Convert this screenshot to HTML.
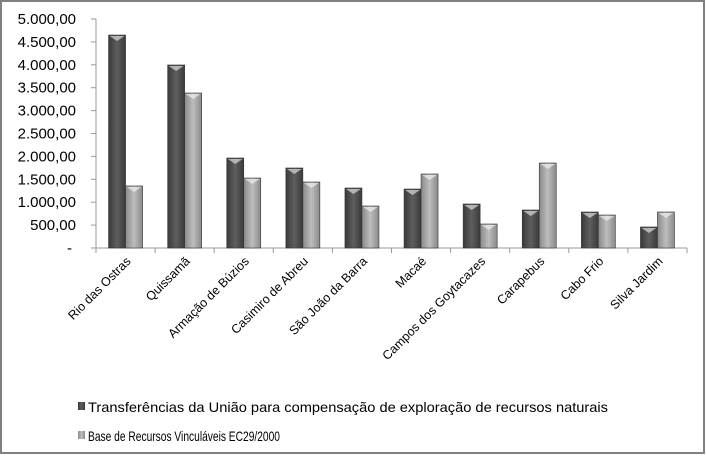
<!DOCTYPE html>
<html><head><meta charset="utf-8"><style>
body{margin:0;background:#fff;}
svg{display:block;font-family:"Liberation Sans",sans-serif;}
</style></head><body>
<svg id="c" width="706" height="456">
<defs>
<linearGradient id="gd" x1="0" x2="1"><stop offset="0" stop-color="#3a3a3a"/><stop offset="0.5" stop-color="#5e5e5e"/><stop offset="1" stop-color="#3a3a3a"/></linearGradient>
<linearGradient id="gl" x1="0" x2="1"><stop offset="0" stop-color="#8a8a8a"/><stop offset="0.5" stop-color="#bdbdbd"/><stop offset="1" stop-color="#8a8a8a"/></linearGradient>
</defs>
<rect x="1" y="1" width="703" height="452" fill="#fff" stroke="#808080" stroke-width="2"/>
<g id="plot"></g>
<g>
<rect x="78" y="402" width="7" height="8" fill="url(#gd)"/>
<text x="88" y="412" font-size="14" textLength="520" lengthAdjust="spacingAndGlyphs">Transferências da União para compensação de exploração de recursos naturais</text>
<rect x="78" y="431" width="7" height="8" fill="url(#gl)"/>
<text x="88" y="441" font-size="14" textLength="192" lengthAdjust="spacingAndGlyphs">Base de Recursos Vinculáveis EC29/2000</text>
</g>
</svg>
<script>
const categories=["Rio das Ostras","Quissamã","Armação de Búzios","Casimiro de Abreu","São João da Barra","Macaé","Campos dos Goytacazes","Carapebus","Cabo Frio","Silva Jardim"];
const transferencias=[4650,3996,1965,1747,1310,1288,961,830,786,459];
const baseRecursos=[1354,3384,1528,1441,917,1616,524,1856,720,786];
const yTicks=[0,500,1000,1500,2000,2500,3000,3500,4000,4500,5000];
const yTickLabels=["-","500,00","1.000,00","1.500,00","2.000,00","2.500,00","3.000,00","3.500,00","4.000,00","4.500,00","5.000,00"];
const NS="http://www.w3.org/2000/svg";
const g=document.getElementById('plot');
const x0=96,x1=687,y0=248,yTop=19,yMax=5000;
const band=(x1-x0)/categories.length;
function y(v){return y0-(v/yMax)*(y0-yTop);}
function xc(i){return x0+band*(i+0.5);}
function mk(t,a){const e=document.createElementNS(NS,t);for(const k in a)e.setAttribute(k,a[k]);g.appendChild(e);return e;}
// axes
let ax=mk('line',{x1:x0,y1:yTop,x2:x0,y2:y0,stroke:'#999'});


let bx=mk('line',{x1:x0,y1:y0,x2:x1,y2:y0,stroke:'#999'});


yTicks.forEach((v,i)=>{
 mk('line',{x1:x0-5,y1:y(v),x2:x0,y2:y(v),stroke:'#999'});
 const t=mk('text',{x:i==0?72:76,y:y(v)+5,'font-size':15,'text-anchor':'end',fill:'#000'});
 t.textContent=yTickLabels[i];
 
 
});
for(let i=0;i<=categories.length;i++){mk('line',{x1:x0+band*i,y1:y0,x2:x0+band*i,y2:y0+5,stroke:'#999'});}
const bw=17;
categories.forEach((c,i)=>{
 const cx=xc(i);
 [[transferencias[i],'url(#gd)',cx-bw,'bar-transferencias'],[baseRecursos[i],'url(#gl)',cx,'bar-base']].forEach(([v,f,bxp,n])=>{
  const r=mk('rect',{x:bxp,y:y(v),width:bw,height:y0-y(v),fill:f,stroke:'#333','stroke-width':0.6});
  
  
  mk('path',{d:`M${bxp+1} ${y(v)+1} L${bxp+bw-1} ${y(v)+1} L${bxp+bw/2} ${y(v)+6} Z`,fill:'rgba(255,255,255,0.55)'});
 });
 const t=mk('text',{x:0,y:0,'font-size':12.5,'text-anchor':'end',transform:`translate(${cx+6},${y0+14}) rotate(-45)`});
 t.textContent=c;
 
 
});
</script>
</body></html>
